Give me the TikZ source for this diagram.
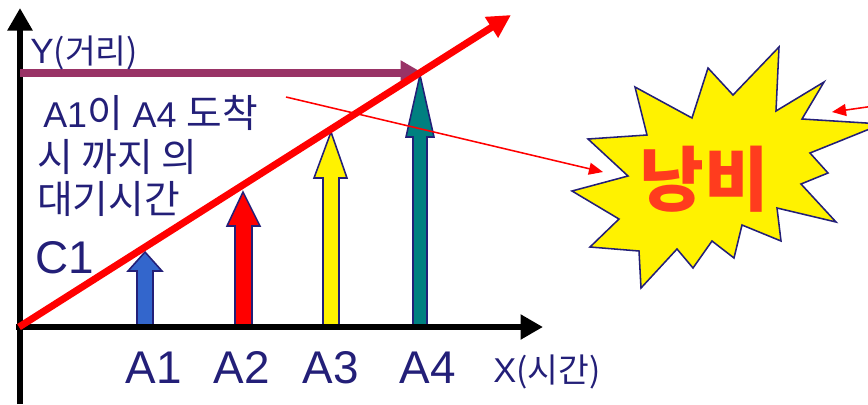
\documentclass[tikz,border=0pt]{standalone}
\usepackage{fontspec}
\setmainfont{Liberation Sans}
\newfontfamily\kr{Noto Sans CJK KR}
\usetikzlibrary{arrows.meta}
\definecolor{navy}{RGB}{35,31,120}
\definecolor{plum}{RGB}{153,51,102}
\definecolor{barblue}{RGB}{51,102,204}
\definecolor{barteal}{RGB}{0,128,128}
\definecolor{wastered}{RGB}{255,60,30}
\makeatletter
\newcommand\ko[2][1]{{\kr\fontsize{#1\dimexpr\f@size pt\relax}{\f@baselineskip}\selectfont#2}}
\makeatother

\begin{document}
\begin{tikzpicture}[x=0.025cm, y=-0.025cm,
    axis/.style={line width=4.4pt, -{Triangle[length=16pt,width=17pt]}},
    bar/.style={draw=navy, line width=1.1pt},
    lbl/.style={text=navy, inner sep=0pt},
    pointer/.style={red, line width=1.1pt, -{Triangle[length=10pt,width=8.5pt]}}]
  \useasboundingbox (0,0) rectangle (868,404);
  \clip (0,0) rectangle (868,404);

  \coordinate (o) at (19,327);
  \coordinate (ybot) at (20,404);
  \coordinate (ytop) at (20,8);
  \coordinate (xleft) at (16,327);
  \coordinate (xtip) at (543,327);
  \coordinate (pstart) at (20,73);
  \coordinate (ptip) at (423,73);
  \coordinate (rtip) at (511,15);
  \coordinate (notetail) at (286,97);
  \coordinate (burstleft) at (603,172);
  \coordinate (burstright) at (832,112);
  \coordinate (offright) at (874,106);

  % waiting bars
  \draw[bar, fill=barblue] (137,327) -- (137,271) -- (128,271) -- (145,252) -- (162,271) -- (153,271) -- (153,327) -- cycle;
  \draw[bar, fill=red] (235,327) -- (235,226) -- (227,226) -- (243,192) -- (260,226) -- (252,226) -- (252,327) -- cycle;
  \draw[bar, fill=yellow] (323,327) -- (323,178) -- (314,178) -- (331,132) -- (347,178) -- (339,178) -- (339,327) -- cycle;
  \draw[bar, fill=barteal] (413,327) -- (413,137) -- (406,137) -- (420,75) -- (434,137) -- (427,137) -- (427,327) -- cycle;

  % axes
  \draw[axis] (ybot) -- (ytop);
  \draw[axis] (xleft) -- (xtip);
  \draw[plum, line width=5.7pt, -{Triangle[length=16pt,width=17pt]}] (pstart) -- (ptip);
  \draw[red, line width=5pt, -{Triangle[length=16.5pt,width=16.5pt]}] (o) -- (rtip);

  % burst
  \draw[bar, fill=yellow] (635,87) -- (692,118) -- (708,68) -- (733,95) -- (779,47) -- (776,111)
    -- (824,82) -- (802,119) -- (882,124) -- (810,153) -- (828,173) -- (801,184) -- (836,222)
    -- (777,208) -- (781,241) -- (742,225) -- (734,258) -- (712,241) -- (693,268) -- (677,249)
    -- (641,288) -- (639,251) -- (590,247) -- (619,219) -- (572,191) -- (628,176) -- (588,139)
    -- (647,135) -- cycle;
  \node[inner sep=0pt, text=wastered, font=\fontsize{50}{50}\selectfont\kr\bfseries] (waste) at (704,179) {낭비};

  \draw[pointer] (notetail) -- (burstleft);
  \draw[pointer] (offright) -- (burstright);

  % labels
  \node[lbl, anchor=base west, font=\fontsize{25}{28}\selectfont] (ylabel) at (30,63) {Y\ko[0.95]{(거리)}};
  \node[lbl, anchor=base west, font=\fontsize{25.5}{28}\selectfont] (note1) at (43,127) {A1\ko[1.08]{이} A4 \ko[1.08]{도착}};
  \node[lbl, anchor=base west, font=\fontsize{27.6}{32}\selectfont\kr] (note2) at (37,171) {시 까지 의};
  \node[lbl, anchor=base west, font=\fontsize{27.6}{32}\selectfont\kr] (note3) at (37,213) {대기시간};
  \node[lbl, anchor=base west, font=\fontsize{32.6}{36}\selectfont] (c1) at (35,273) {C1};
  \node[lbl, anchor=base, font=\fontsize{32.6}{36}\selectfont] (a1) at (154,383) {A1};
  \node[lbl, anchor=base, font=\fontsize{32.6}{36}\selectfont] (a2) at (242,383) {A2};
  \node[lbl, anchor=base, font=\fontsize{32.6}{36}\selectfont] (a3) at (331,383) {A3};
  \node[lbl, anchor=base, font=\fontsize{32.6}{36}\selectfont] (a4) at (428,383) {A4};
  \node[lbl, anchor=base west, font=\fontsize{24.5}{28}\selectfont] (xlabel) at (493,382) {X\ko[0.97]{(시간)}};
\end{tikzpicture}
\end{document}
